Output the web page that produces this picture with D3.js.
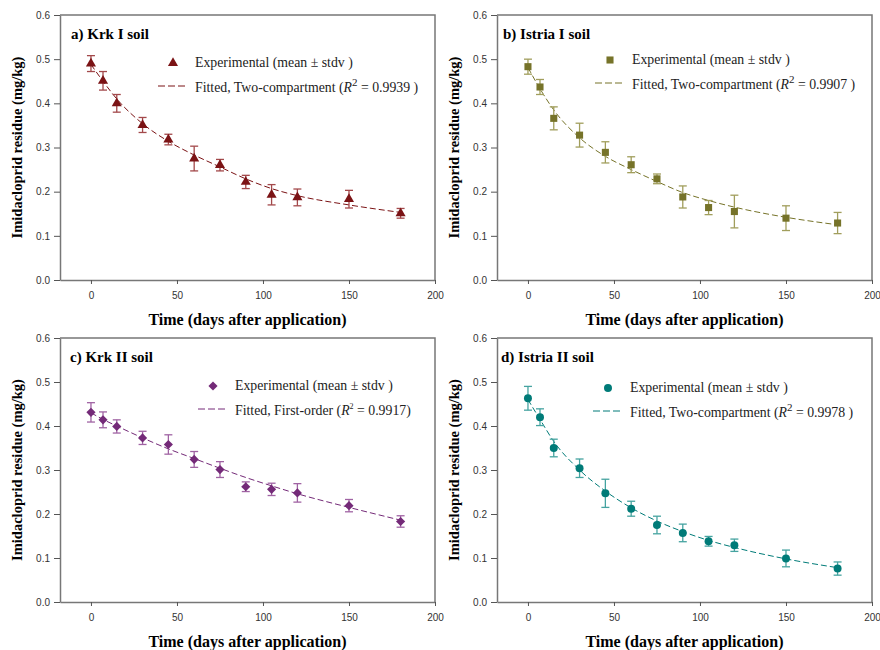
<!DOCTYPE html>
<html>
<head>
<meta charset="utf-8">
<script src="https://cdn.jsdelivr.net/npm/d3@7"></script>
<style>
    body { margin: 0; background: #fff; }
    .tick text { font-family: "Liberation Sans", Arial, sans-serif; font-size: 10px; fill: #333; }
    .serif { font-family: "Book Antiqua", "Palatino Linotype", "Liberation Serif", serif; }
</style>
</head>
<body>
<script>
// sampling days (same for all four soils):
var days = [0, 7, 15, 30, 45, 60, 75, 90, 105, 120, 150, 180];

var krkIMean   = [0.490, 0.451, 0.400, 0.351, 0.318, 0.275, 0.260, 0.222, 0.193, 0.187, 0.183, 0.151];
var krkISd     = [0.018, 0.021, 0.020, 0.017, 0.012, 0.028, 0.013, 0.015, 0.023, 0.019, 0.020, 0.011];
var istIMean   = [0.483, 0.437, 0.366, 0.328, 0.289, 0.261, 0.229, 0.188, 0.164, 0.155, 0.140, 0.129];
var istISd     = [0.017, 0.017, 0.026, 0.027, 0.024, 0.018, 0.011, 0.025, 0.016, 0.037, 0.028, 0.024];
var krkIIMean  = [0.431, 0.414, 0.399, 0.373, 0.358, 0.324, 0.301, 0.262, 0.256, 0.248, 0.219, 0.183];
var krkIISd    = [0.022, 0.018, 0.015, 0.015, 0.022, 0.018, 0.018, 0.011, 0.014, 0.021, 0.014, 0.013];
var istIIMean  = [0.463, 0.420, 0.350, 0.304, 0.247, 0.212, 0.175, 0.157, 0.138, 0.129, 0.099, 0.076];
var istIISd    = [0.027, 0.019, 0.020, 0.021, 0.032, 0.017, 0.020, 0.020, 0.011, 0.014, 0.019, 0.015];

// fitted curves at the same days:
var krkIFit    = [0.488, 0.450, 0.410, 0.354, 0.314, 0.283, 0.256, 0.229, 0.207, 0.191, 0.170, 0.153];
var istIFit    = [0.481, 0.433, 0.385, 0.322, 0.280, 0.250, 0.223, 0.198, 0.180, 0.165, 0.142, 0.125];
var krkIIFit   = [0.430, 0.415, 0.400, 0.373, 0.348, 0.326, 0.304, 0.283, 0.264, 0.246, 0.215, 0.186];
var istIIFit   = [0.460, 0.415, 0.365, 0.300, 0.252, 0.214, 0.184, 0.160, 0.140, 0.124, 0.098, 0.078];

// axis ticks:
var xTicks = [0, 50, 100, 150, 200];
var yTicks = [0, 0.1, 0.2, 0.3, 0.4, 0.5, 0.6];

// panel titles + legend text:
var panelTitles = ["a) Krk I soil", "b) Istria I soil", "c) Krk II soil", "d) Istria II soil"];
var fitModels   = ["Two-compartment", "Two-compartment", "First-order", "Two-compartment"];
var fitR2       = ["0.9939  )", "0.9907  )", "0.9917)", "0.9978  )"];

(function () {

    var width = 880, height = 650;

    var svg = d3.select("body")
        .append("svg")
        .attr("width", width)
        .attr("height", height);

    // panel frames + legend spots:
    var panels = [
        { left: 60,  top: 15,  right: 435, bottom: 280, mean: krkIMean,  sd: krkISd,  fit: krkIFit,
          color: "#7b1315", light: "#a3494b", symbol: d3.symbolTriangle, size: 44, rot: 0,
          titleX: 71, legX: 173, legY: 63, label: 0 },
        { left: 497, top: 15,  right: 872, bottom: 280, mean: istIMean,  sd: istISd,  fit: istIFit,
          color: "#767329", light: "#a19e5c", symbol: d3.symbolSquare, size: 50, rot: 0,
          titleX: 503, legX: 610, legY: 60, label: 1 },
        { left: 60,  top: 338, right: 435, bottom: 602, mean: krkIIMean, sd: krkIISd, fit: krkIIFit,
          color: "#742a78", light: "#a063a3", symbol: d3.symbolSquare, size: 42, rot: 45,
          titleX: 70, legX: 213, legY: 386, label: 2 },
        { left: 497, top: 338, right: 872, bottom: 602, mean: istIIMean, sd: istIISd, fit: istIIFit,
          color: "#007b78", light: "#45a3a0", symbol: d3.symbolCircle, size: 50, rot: 0,
          titleX: 501, legX: 608, legY: 388, label: 3 }
    ];

    panels.forEach(drawPanel);

    function drawPanel(p) {
        var x = d3.scaleLinear().domain([-18, 200]).range([p.left, p.right]);
        var y = d3.scaleLinear().domain([0, 0.6]).range([p.bottom, p.top]);

        var g = svg.append("g");

        // frame (top + right), axes draw the other two sides:
        g.append("path")
            .attr("d", "M" + p.left + "," + p.top + "H" + p.right + "V" + p.bottom)
            .attr("fill", "none")
            .attr("stroke", "#777")
            .attr("stroke-width", 1.5);

        var xAxis = g.append("g")
            .attr("transform", "translate(0," + p.bottom + ")")
            .call(d3.axisBottom(x).tickValues(xTicks).tickSize(4).tickPadding(8).tickSizeOuter(0));
        var yAxis = g.append("g")
            .attr("transform", "translate(" + p.left + ",0)")
            .call(d3.axisLeft(y).tickValues(yTicks).tickFormat(d3.format(".1f")).tickSize(6).tickPadding(4).tickSizeOuter(0));
        [xAxis, yAxis].forEach(function (a) {
            a.select(".domain").attr("stroke", "#777").attr("stroke-width", 1.5);
            a.selectAll(".tick line").attr("stroke", "#555");
        });

        // axis titles:
        g.append("text")
            .attr("class", "serif")
            .attr("x", (p.left + p.right) / 2)
            .attr("y", p.bottom + 45)
            .attr("text-anchor", "middle")
            .style("font-weight", "bold")
            .style("font-size", "16px")
            .text("Time (days after application)");
        g.append("text")
            .attr("class", "serif")
            .attr("transform", "translate(" + (p.left - 38) + "," + ((p.top + p.bottom) / 2) + ") rotate(-90)")
            .attr("text-anchor", "middle")
            .style("font-weight", "bold")
            .style("font-size", "14.5px")
            .text("Imidacloprid residue (mg/kg)");

        // panel title:
        g.append("text")
            .attr("class", "serif")
            .attr("x", p.titleX)
            .attr("y", p.top + 24)
            .style("font-weight", "bold")
            .style("font-size", "15px")
            .text(panelTitles[p.label]);

        // fitted line:
        var line = d3.line()
            .x(function (d) { return x(d[0]); })
            .y(function (d) { return y(d[1]); })
            .curve(d3.curveMonotoneX);
        g.append("path")
            .datum(days.map(function (t, i) { return [t, p.fit[i]]; }))
            .attr("d", line)
            .attr("fill", "none")
            .attr("stroke", p.color)
            .attr("stroke-width", 1)
            .attr("stroke-dasharray", "6,3");

        // error bars:
        var pts = days.map(function (t, i) { return { t: t, m: p.mean[i], s: p.sd[i] }; });
        var eb = g.selectAll(".eb")
            .data(pts)
            .enter()
            .append("g")
            .attr("stroke", p.light)
            .attr("stroke-width", 1.3);
        eb.append("line")
            .attr("x1", function (d) { return x(d.t); })
            .attr("x2", function (d) { return x(d.t); })
            .attr("y1", function (d) { return y(d.m - d.s); })
            .attr("y2", function (d) { return y(d.m + d.s); });
        [-1, 1].forEach(function (sgn) {
            eb.append("line")
                .attr("x1", function (d) { return x(d.t) - 4; })
                .attr("x2", function (d) { return x(d.t) + 4; })
                .attr("y1", function (d) { return y(d.m + sgn * d.s); })
                .attr("y2", function (d) { return y(d.m + sgn * d.s); });
        });

        // markers:
        var sym = d3.symbol().type(p.symbol).size(p.size);
        g.selectAll(".pt")
            .data(pts)
            .enter()
            .append("path")
            .attr("d", sym)
            .attr("transform", function (d) { return "translate(" + x(d.t) + "," + y(d.m) + ") rotate(" + p.rot + ")"; })
            .attr("fill", p.color);

        // legend:
        g.append("path")
            .attr("d", sym)
            .attr("transform", "translate(" + p.legX + "," + p.legY + ") rotate(" + p.rot + ")")
            .attr("fill", p.color);
        g.append("text")
            .attr("class", "serif")
            .attr("x", p.legX + 22)
            .attr("y", p.legY + 4)
            .style("font-size", "13.8px")
            .attr("fill", "#222")
            .text("Experimental (mean ± stdv )");
        g.append("line")
            .attr("x1", p.legX - 15)
            .attr("x2", p.legX + 12)
            .attr("y1", p.legY + 23)
            .attr("y2", p.legY + 23)
            .attr("stroke", p.color)
            .attr("stroke-width", 1)
            .attr("stroke-dasharray", "7,3");
        var fitText = g.append("text")
            .attr("class", "serif")
            .attr("x", p.legX + 22)
            .attr("y", p.legY + 29)
            .style("font-size", "13.8px")
            .attr("fill", "#222");
        fitText.append("tspan").text("Fitted, " + fitModels[p.label] + " (");
        fitText.append("tspan").style("font-style", "italic").text("R");
        fitText.append("tspan").attr("dy", -6).style("font-size", p.label == 2 ? "8px" : "11px").text("2");
        fitText.append("tspan").attr("dy", 6).text(" = " + fitR2[p.label]);
    }

})();
</script>
</body>
</html>
